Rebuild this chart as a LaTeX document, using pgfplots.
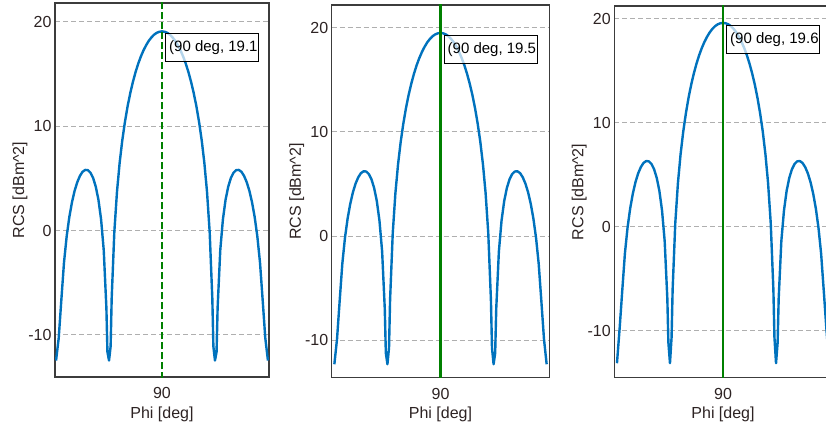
\documentclass[border=0pt]{standalone}
\usepackage{fontspec}
\setmainfont{Liberation Sans}
\usepackage{pgfplots}
\usepackage{pgfplotstable}
\pgfplotsset{compat=1.18}
\definecolor{curveblue}{RGB}{0,114,189}
\definecolor{markgreen}{RGB}{0,128,0}
\definecolor{txt}{RGB}{45,35,35}
\definecolor{framec}{RGB}{60,60,60}
\definecolor{gridc}{RGB}{175,175,175}

\pgfplotstableread{
x a b c
70.0 -12.45 -12.30 -13.10
70.5 -10.30 -9.90 -9.80
71.0 -6.62 -6.22 -6.12
71.5 -3.05 -2.65 -2.55
72.0 -0.56 -0.16 -0.06
72.5 1.29 1.69 1.79
73.0 2.71 3.11 3.21
73.5 3.81 4.21 4.31
74.0 4.64 5.04 5.14
74.5 5.24 5.64 5.74
75.0 5.64 6.04 6.14
75.5 5.82 6.22 6.32
76.0 5.80 6.20 6.30
76.5 5.55 5.95 6.05
77.0 5.04 5.44 5.54
77.5 4.21 4.61 4.71
78.0 2.96 3.36 3.46
78.5 1.08 1.48 1.58
79.0 -1.87 -1.47 -1.37
79.5 -7.38 -6.98 -6.88
79.7 -11.63 -11.23 -11.13
80.0 -12.45 -12.30 -13.10
80.3 -11.11 -10.71 -10.61
80.5 -6.51 -6.11 -6.01
81.0 -0.13 0.27 0.37
81.5 3.71 4.11 4.21
82.0 6.48 6.88 6.98
82.5 8.65 9.05 9.15
83.0 10.41 10.81 10.91
83.5 11.90 12.30 12.40
84.0 13.16 13.56 13.66
84.5 14.24 14.64 14.74
85.0 15.18 15.58 15.68
85.5 15.99 16.39 16.49
86.0 16.68 17.08 17.18
86.5 17.27 17.67 17.77
87.0 17.77 18.17 18.27
87.5 18.19 18.59 18.69
88.0 18.52 18.92 19.02
88.5 18.78 19.18 19.28
89.0 18.96 19.36 19.46
89.5 19.06 19.46 19.56
90.0 19.10 19.50 19.60
90.5 19.06 19.46 19.56
91.0 18.96 19.36 19.46
91.5 18.78 19.18 19.28
92.0 18.52 18.92 19.02
92.5 18.19 18.59 18.69
93.0 17.77 18.17 18.27
93.5 17.27 17.67 17.77
94.0 16.68 17.08 17.18
94.5 15.99 16.39 16.49
95.0 15.18 15.58 15.68
95.5 14.24 14.64 14.74
96.0 13.16 13.56 13.66
96.5 11.90 12.30 12.40
97.0 10.41 10.81 10.91
97.5 8.65 9.05 9.15
98.0 6.48 6.88 6.98
98.5 3.71 4.11 4.21
99.0 -0.13 0.27 0.37
99.5 -6.51 -6.11 -6.01
99.7 -11.11 -10.71 -10.61
100.0 -12.45 -12.30 -13.10
100.3 -11.63 -11.23 -11.13
100.5 -7.38 -6.98 -6.88
101.0 -1.87 -1.47 -1.37
101.5 1.08 1.48 1.58
102.0 2.96 3.36 3.46
102.5 4.21 4.61 4.71
103.0 5.04 5.44 5.54
103.5 5.55 5.95 6.05
104.0 5.80 6.20 6.30
104.5 5.82 6.22 6.32
105.0 5.64 6.04 6.14
105.5 5.24 5.64 5.74
106.0 4.64 5.04 5.14
106.5 3.81 4.21 4.31
107.0 2.71 3.11 3.21
107.5 1.29 1.69 1.79
108.0 -0.56 -0.16 -0.06
108.5 -3.05 -2.65 -2.55
109.0 -6.62 -6.22 -6.12
109.5 -10.30 -9.90 -9.80
110.0 -12.45 -12.30 -13.10
}\rcsdata

\pgfplotsset{
  rcsbase/.style={
    scale only axis, anchor=south west,
    xtick={90}, ytick={-10,0,10,20},
    major tick length=0pt,
    ymajorgrids,
    major grid style={gridc, line width=1pt, dash pattern=on 5pt off 3pt},
    axis line style={framec, line width=1.4pt},
    tick label style={font=\fontsize{16}{19}\selectfont, text=txt},
    label style={font=\fontsize{16}{19}\selectfont, text=txt},
    /pgf/number format/assume math mode=true,
    xlabel={Phi [deg]}, ylabel={RCS [dBm\^{}2]},
    xlabel style={at={(rel axis cs:0.5,0)}, anchor=center, yshift=-37pt},
    ylabel style={at={(rel axis cs:0,0.5)}, anchor=center, yshift=35pt},
    xticklabel style={anchor=center, yshift=-16pt},
    yticklabel style={anchor=east},
  },
  curve/.style={curveblue, line width=2.4pt, line join=round},
}
\tikzset{
  annotbox/.style={draw=black, line width=0.8pt, fill=white, fill opacity=0.7,
    anchor=north west, xshift=3pt, yshift=-2pt, minimum width=93pt, minimum height=28pt, inner sep=0pt},
  annottext/.style={anchor=west, xshift=4pt, font=\fontsize{15}{18}\selectfont, text=black, inner sep=0pt},
}

\begin{document}
\begin{tikzpicture}
% panel 1
\begin{axis}[rcsbase, at={(55pt,51pt)}, width=214pt, height=374pt,
  xmin=69.8, xmax=110.2, ymin=-14.03, ymax=21.82]
\addplot[curve] table[x=x,y=a]{\rcsdata};
\addplot[markgreen, line width=2.5pt, dash pattern=on 7pt off 3pt] coordinates {(90,-20) (90,30)};
\node[annotbox] (b1) at (axis cs:90,19.1) {};
\node[annottext] at (b1.west) {(90 deg, 19.1};
\end{axis}
% panel 2
\begin{axis}[rcsbase, at={(331.7pt,50.3pt)}, width=217.6pt, height=372.7pt,
  xmin=69.5, xmax=110.5, ymin=-13.59, ymax=22.18]
\addplot[curve] table[x=x,y=b]{\rcsdata};
\addplot[markgreen, line width=2.5pt] coordinates {(90,-20) (90,30)};
\node[annotbox] (b2) at (axis cs:90,19.5) {};
\node[annottext] at (b2.west) {(90 deg, 19.5};
\end{axis}
% panel 3
\begin{axis}[rcsbase, at={(614.3pt,50.3pt)}, width=217.4pt, height=371.7pt,
  xmin=69.5, xmax=110.5, ymin=-14.49, ymax=21.22]
\addplot[curve] table[x=x,y=c]{\rcsdata};
\addplot[markgreen, line width=2.5pt] coordinates {(90,-20) (90,30)};
\node[annotbox] (b3) at (axis cs:90,19.6) {};
\node[annottext] at (b3.west) {(90 deg, 19.6};
\end{axis}
\pgfresetboundingbox
\path[use as bounding box] (0pt,0pt) rectangle (826pt,428pt);
\end{tikzpicture}
\end{document}
